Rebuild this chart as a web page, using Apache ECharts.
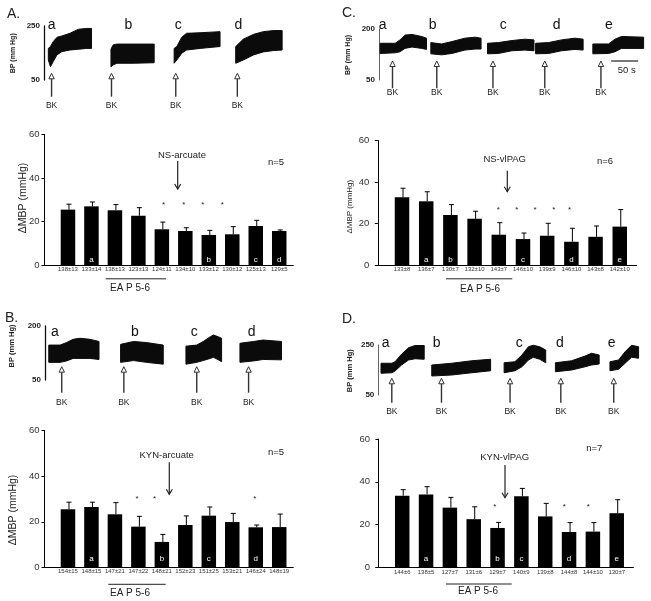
<!DOCTYPE html>
<html><head><meta charset="utf-8">
<script src="https://cdn.jsdelivr.net/npm/echarts@6/dist/echarts.min.js"></script>
<style>html,body{margin:0;padding:0;background:#fff}#c{width:651px;height:601px}</style>
</head><body><div id="c"></div>
<script>
const FONT = '"Liberation Sans", Arial, Helvetica, sans-serif';
const pxPerSec = 27 / 50; // 50 s scale bar = 27 px

// ---------- BP traces: [time (s), lower envelope, upper envelope] (mm Hg) ----------
const traceA_a = [[8,124,167],[12,99,174],[17,118,192],[24,143,208],[33,155,213],[48,161,223],[64,164,238],[79,167,241],[88,167,241]];
const traceA_b = [[124,99,164],[128,106,180],[135,112,183],[165,112,183],[204,114,183]];
const traceA_c = [[241,112,167],[246,124,174],[255,149,208],[264,161,223],[289,167,225],[326,174,229]];
const traceA_d = [[355,112,174],[369,124,201],[388,143,219],[406,154,229],[425,159,233],[441,161,233]];

const traceB_a = [[7,99,147],[28,99,147],[40,103,154],[52,110,163],[65,110,166],[83,110,163],[100,107,157]];
const traceB_b = [[140,99,149],[164,104,157],[188,99,154],[219,94,147]];
const traceB_c = [[261,94,144],[281,99,147],[293,104,157],[306,110,170],[312,113,175],[321,106,170],[327,101,166]];
const traceB_d = [[361,99,152],[386,103,157],[404,107,161],[438,106,157]];

const traceC_a = [[2,128,158],[30,130,158],[39,133,168],[48,143,182],[61,147,184],[79,143,178],[88,140,173]];
const traceC_b = [[96,127,160],[116,124,156],[135,128,163],[159,138,173],[178,141,176],[189,141,173]];
const traceC_c = [[201,127,158],[221,128,160],[246,136,166],[270,138,170],[287,136,168]];
const traceC_d = [[290,127,158],[314,128,160],[338,136,168],[363,140,173],[378,138,170]];
const traceC_e = [[396,127,156],[425,128,156],[437,133,170],[449,143,178],[490,143,176]];

const traceD_a = [[5,137,177],[25,139,177],[31,146,183],[43,170,213],[56,190,239],[68,195,248],[85,193,248]];
const traceD_b = [[99,126,170],[136,130,177],[173,139,187],[208,147,193]];
const traceD_c = [[233,139,179],[253,147,183],[266,163,210],[278,190,243],[287,201,249],[299,193,243],[310,179,230]];
const traceD_d = [[328,143,179],[358,150,187],[383,163,206],[395,170,217],[409,174,210]];
const traceD_e = [[429,147,183],[445,153,190],[457,177,223],[469,201,249],[482,197,243]];

// BK injection times (s)
const bkA = [14, 125, 244, 358];
const bkB = [31, 146, 281, 377];
const bkC = [25, 107, 211, 307, 411];
const bkD = [25, 117, 244, 338, 436];
const scaleBarC = [430, 50]; // start (s), length (s)

const traceLettersA = ['a','b','c','d'];
const traceLettersB = ['a','b','c','d'];
const traceLettersC = ['a','b','c','d','e'];
const traceLettersD = ['a','b','c','d','e'];

// ---------- Bar charts: ΔMBP (mmHg) ----------
const catsA = ['138±13','133±14','138±13','123±13','124±11','134±10','133±12','130±12','125±13','129±5'];
const mbpA  = [25.5,27.0,25.2,22.7,16.5,15.7,13.9,14.2,18.0,15.7];
const semA  = [2.5,2.0,2.6,3.7,3.3,1.5,2.1,3.5,2.6,0.5];
const letA  = ['','a','','','','','b','','c','d'];
const starA = [[5.07,28.8],[5.93,28.8],[6.74,28.8],[7.58,28.8]];

const catsB = ['154±15','148±15','147±21','147±22','148±21','152±23','151±25','153±21','146±24','148±19'];
const mbpB  = [25.5,26.5,23.3,17.9,11.2,18.6,22.7,19.9,17.6,17.7];
const semB  = [3.1,2.1,5.1,4.5,3.3,4.0,3.8,3.8,1.0,5.7];
const letB  = ['','a','','','b','','c','','d',''];
const starB = [[3.94,30.9],[4.69,30.9],[8.96,30.9]];

const catsC = ['133±8','136±7','130±7','132±10','143±7','146±10','139±9','146±10','143±8','142±10'];
const mbpC  = [32.6,30.7,24.1,22.3,14.6,12.5,14.1,11.2,13.6,18.5];
const semC  = [4.4,4.6,5.0,3.6,5.8,2.9,6.0,6.5,5.2,8.2];
const letC  = ['','a','b','','','c','','d','','e'];
const starC = [[4.98,27.8],[5.74,27.8],[6.5,27.8],[7.27,27.8],[7.92,27.8]];

const catsD = ['144±6','138±5','127±7','131±6','129±7','140±9','139±8','144±8','144±10','130±7'];
const mbpD  = [33.5,34.1,27.9,22.5,18.4,33.2,23.8,16.5,16.7,25.3];
const semD  = [2.8,3.6,4.8,5.8,2.6,3.7,6.1,4.4,4.2,6.3];
const letD  = ['','a','','','b','c','','d','','e'];
const starD = [[4.89,29.1],[7.8,29.1],[8.81,29.1]];

// ---------- layout ----------
const panels = [
  { traces:[traceA_a,traceA_b,traceA_c,traceA_d], bk:bkA,
    tr:{left:44, top:26, height:54, tmax:450, ymin:50, ymax:250, axisColor:'#111', axisW:1.3, tip:-6.7, tail:16.7, lab:26},
    bar:{left:44.5, top:134.3, width:248.8, height:131, xmin:0, xmax:10.6, cats:catsA, vals:mbpA, errs:semA, lets:letA, stars:starA, letDy:-6, labDy:4, margin:5} },
  { traces:[traceB_a,traceB_b,traceB_c,traceB_d], bk:bkB,
    tr:{left:45, top:326, height:54, tmax:445, ymin:50, ymax:200, axisColor:'#111', axisW:1.3, tip:-13.3, tail:12.7, lab:22.7},
    bar:{left:44.5, top:430.5, width:248.8, height:137, xmin:0, xmax:10.6, cats:catsB, vals:mbpB, errs:semB, lets:letB, stars:starB, letDy:-8.5, labDy:4, margin:5} },
  { traces:[traceC_a,traceC_b,traceC_c,traceC_d,traceC_e], bk:bkC, scale:scaleBarC,
    tr:{left:379, top:29, height:51, tmax:495, ymin:50, ymax:200, axisColor:'#666', axisW:1, tip:-19, tail:8.3, lab:12.7},
    bar:{left:375.4, top:140.5, width:261.3, height:124.5, xmin:-0.1, xmax:10.7, cats:catsC, vals:mbpC, errs:semC, lets:letC, stars:starC, letDy:-5.7, labDy:4.7, margin:6} },
  { traces:[traceD_a,traceD_b,traceD_c,traceD_d,traceD_e], bk:bkD,
    tr:{left:378.3, top:345, height:50, tmax:485, ymin:50, ymax:250, axisColor:'#666', axisW:1, tip:-16.7, tail:7.7, lab:16.7},
    bar:{left:376, top:439, width:257.4, height:128.3, xmin:-0.1, xmax:10.7, cats:catsD, vals:mbpD, errs:semD, lets:letD, stars:starD, letDy:-9, labDy:4.7, margin:6} }
];

const grid = [], xAxis = [], yAxis = [], series = [];

function textSeries(gi, points, texts, o) {
  return { type:'custom', xAxisIndex:gi, yAxisIndex:gi, clip:false, silent:true, z:o.z || 6,
    data: points,
    renderItem: (params, api) => {
      const p = api.coord([api.value(0), api.value(1)]);
      return { type:'text', x:p[0] + (o.dx || 0), y:p[1] + (o.dy || 0),
        style:{ text: texts[params.dataIndex], fontSize:o.size, fontFamily:FONT, fill:o.color,
                align:'center', verticalAlign:'middle', fontWeight:o.weight || 'normal' } };
    } };
}

panels.forEach((P, k) => {
  // ---- trace grid ----
  const tg = 2 * k;
  const T = P.tr;
  grid.push({ left:T.left, top:T.top, width:T.tmax * pxPerSec, height:T.height, containLabel:false, outerBoundsMode:'none' });
  xAxis.push({ gridIndex:tg, type:'value', min:0, max:T.tmax, show:false });
  yAxis.push({ gridIndex:tg, type:'value', min:T.ymin, max:T.ymax, interval:50,
    axisLine:{ show:true, lineStyle:{ color:T.axisColor, width:T.axisW } },
    axisTick:{ show:false }, splitLine:{ show:false },
    axisLabel:{ show:true, margin:4, fontSize:8, fontWeight:'bold', fontFamily:FONT, color:'#222',
      formatter: v => (v === T.ymin || v === T.ymax) ? String(v) : '' } });
  // each trace: a filled band between the lower and upper pressure envelope
  P.traces.forEach((trace) => {
    series.push({ type:'custom', xAxisIndex:tg, yAxisIndex:tg, silent:true, clip:false, z:2,
      data: trace,
      renderItem: (params, api) => {
        if (params.dataIndex !== 0) return null;
        const upper = trace.map(d => api.coord([d[0], d[2]]));
        const lower = trace.map(d => api.coord([d[0], d[1]])).reverse();
        return { type:'polygon', shape:{ points: upper.concat(lower) },
          style:{ fill:'#0b0b0b', stroke:'#0b0b0b', lineWidth:1, lineJoin:'round' } };
      } });
  });
  series.push({ type:'custom', xAxisIndex:tg, yAxisIndex:tg, clip:false, silent:true, z:5,
    data: P.bk.map(t => [t, T.ymin]),
    renderItem: (params, api) => {
      const p = api.coord([api.value(0), api.value(1)]);
      const x = p[0], y = p[1], tipY = y + T.tip, tailY = y + T.tail;
      return { type:'group', children:[
        { type:'line', shape:{ x1:x, y1:tailY, x2:x, y2:tipY + 5.5 }, style:{ stroke:'#333', lineWidth:1.4 } },
        { type:'polygon', shape:{ points:[[x, tipY], [x - 2.7, tipY + 5.5], [x + 2.7, tipY + 5.5]] }, style:{ fill:'#fff', stroke:'#333', lineWidth:1 } },
        { type:'text', x:x, y:y + T.lab, style:{ text:'BK', fontSize:8.5, fontFamily:FONT, fill:'#222', align:'center', verticalAlign:'middle' } }
      ] };
    } });
  if (P.scale) {
    series.push({ type:'custom', xAxisIndex:tg, yAxisIndex:tg, clip:false, silent:true, z:5,
      data: [[P.scale[0], P.scale[0] + P.scale[1], T.ymin]],
      renderItem: (params, api) => {
        const a = api.coord([api.value(0), api.value(2)]);
        const b = api.coord([api.value(1), api.value(2)]);
        return { type:'group', children:[
          { type:'line', shape:{ x1:a[0], y1:a[1] - 19, x2:b[0], y2:b[1] - 19 }, style:{ stroke:'#222', lineWidth:1.2 } },
          { type:'text', x:(a[0] + b[0]) / 2 + 2, y:a[1] - 10, style:{ text:'50 s', fontSize:9.5, fontFamily:FONT, fill:'#222', align:'center', verticalAlign:'middle' } }
        ] };
      } });
  }

  // ---- bar grid ----
  const bg = 2 * k + 1;
  const B = P.bar;
  grid.push({ left:B.left, top:B.top, width:B.width, height:B.height, containLabel:false, outerBoundsMode:'none' });
  xAxis.push({ gridIndex:bg, type:'value', min:B.xmin, max:B.xmax,
    axisLine:{ show:true, onZero:false, lineStyle:{ color:'#000', width:1 } },
    axisTick:{ show:false }, axisLabel:{ show:false }, splitLine:{ show:false } });
  yAxis.push({ gridIndex:bg, type:'value', min:0, max:60, interval:20,
    axisLine:{ show:true, lineStyle:{ color:'#000', width:1 } },
    axisTick:{ show:true, inside:false, length:3, lineStyle:{ color:'#000' } },
    splitLine:{ show:false },
    axisLabel:{ margin:B.margin, fontSize:9.5, fontFamily:FONT, color:'#333' } });
  series.push({ type:'bar', xAxisIndex:bg, yAxisIndex:bg, silent:true, barWidth:14.5, z:2,
    data: B.vals.map((v, i) => [i + 1, v]), itemStyle:{ color:'#000' } });
  series.push({ type:'custom', xAxisIndex:bg, yAxisIndex:bg, silent:true, clip:false, z:3,
    data: B.vals.map((v, i) => [i + 1, v, B.errs[i]]),
    renderItem: (params, api) => {
      const x = api.value(0), v = api.value(1), e = api.value(2);
      const p0 = api.coord([x, v]), p1 = api.coord([x, v + e]);
      return { type:'group', children:[
        { type:'line', shape:{ x1:p0[0] + 1, y1:p0[1], x2:p1[0] + 1, y2:p1[1] }, style:{ stroke:'#000', lineWidth:1 } },
        { type:'line', shape:{ x1:p1[0] - 1.5, y1:p1[1], x2:p1[0] + 3.5, y2:p1[1] }, style:{ stroke:'#000', lineWidth:1 } }
      ] };
    } });
  series.push(textSeries(bg, B.cats.map((c, i) => [i + 1, 0]), B.cats, { dy:B.labDy, size:6, color:'#333' }));
  series.push(textSeries(bg, B.lets.map((c, i) => [i + 1, 0]), B.lets, { dy:B.letDy, size:8, color:'#fff', z:7 }));
  series.push(textSeries(bg, B.stars, B.stars.map(() => '*'), { dy:2, size:8, color:'#222' }));
});

// ---------- static annotations ----------
const T = (text, x, y, size, extra) => ({ type:'text', x, y, silent:true,
  style:Object.assign({ text, fontSize:size, fontFamily:FONT, fill:'#222', align:'center', verticalAlign:'middle' }, extra || {}) });
const downArrow = (x, y1, y2) => ({ type:'group', silent:true, children:[
  { type:'line', shape:{ x1:x, y1:y1, x2:x, y2:y2 }, style:{ stroke:'#222', lineWidth:1.2 } },
  { type:'polyline', shape:{ points:[[x - 3, y2 - 5], [x, y2], [x + 3, y2 - 5]] }, style:{ stroke:'#222', lineWidth:1.2, fill:null } }
] });
const hline = (x1, x2, y) => ({ type:'line', silent:true, shape:{ x1, y1:y, x2, y2:y }, style:{ stroke:'#222', lineWidth:1 } });
const rot = Math.PI / 2;

const graphic = [
  T('A.', 7, 14.3, 14, { align:'left' }), T('B.', 5, 317.7, 14, { align:'left' }),
  T('C.', 342, 12.8, 14, { align:'left' }), T('D.', 342, 318.7, 14, { align:'left' }),
  T('BP (mm Hg)', 12.7, 53.3, 7, { fontWeight:'bold' }), T('BP (mm Hg)', 11.5, 346, 7.5, { fontWeight:'bold' }),
  T('BP (mm Hg)', 347.7, 55, 7, { fontWeight:'bold' }), T('BP (mm Hg)', 350, 370.7, 7.5, { fontWeight:'bold' }),
  T('NS-arcuate', 182, 155.7, 9.5), downArrow(177.7, 161, 189), T('n=5', 276, 162.7, 9.5),
  T('KYN-arcuate', 166.7, 455.7, 9.5), downArrow(169.3, 462.3, 494.3), T('n=5', 276, 452.7, 9.5),
  T('NS-vlPAG', 504.7, 159, 9.5), downArrow(507.3, 170.7, 191.7), T('n=6', 605, 161, 9.5),
  T('KYN-vlPAG', 504.7, 457.3, 9.5), downArrow(505, 465, 497.7), T('n=7', 594.3, 448.3, 9.5),
  hline(105.7, 166, 278.8), T('EA P 5-6', 130, 288.5, 10),
  hline(108.3, 165.7, 584.3), T('EA P 5-6', 130, 593.3, 10),
  hline(446, 512.3, 278.8), T('EA P 5-6', 480, 289, 10),
  hline(446, 511.7, 584), T('EA P 5-6', 478, 591.7, 10),
  T('ΔMBP (mmHg)', 23, 198, 10.5, {}), T('ΔMBP (mmHg)', 13.3, 510, 10.5, {}), T('ΔMBP (mmHg)', 350, 206.7, 8, {})
];
graphic.forEach(g => { if (g.style && (g.style.text === 'BP (mm Hg)' || g.style.text === 'ΔMBP (mmHg)')) g.rotation = rot; });

// trace letters
const letterPos = [
  [traceLettersA, [[51.7,25],[128.3,25],[178.3,25],[238.3,25]]],
  [traceLettersB, [[55,332.3],[135,332.3],[194.3,332.3],[251.7,332.3]]],
  [traceLettersC, [[382.7,25],[432.7,25],[503.3,25],[556.7,25],[609,25]]],
  [traceLettersD, [[385.7,343.3],[436.7,343.3],[519.3,343.3],[560,343.3],[611.7,343.3]]]
];
letterPos.forEach(([labels, pos]) => labels.forEach((l, i) => graphic.push(T(l, pos[i][0], pos[i][1], 14, { fill:'#111' }))));

const chart = echarts.init(document.getElementById('c'), null, { renderer:'canvas' });
chart.setOption({ animation:false, backgroundColor:'#fff', grid, xAxis, yAxis, series, graphic });
</script></body></html>
